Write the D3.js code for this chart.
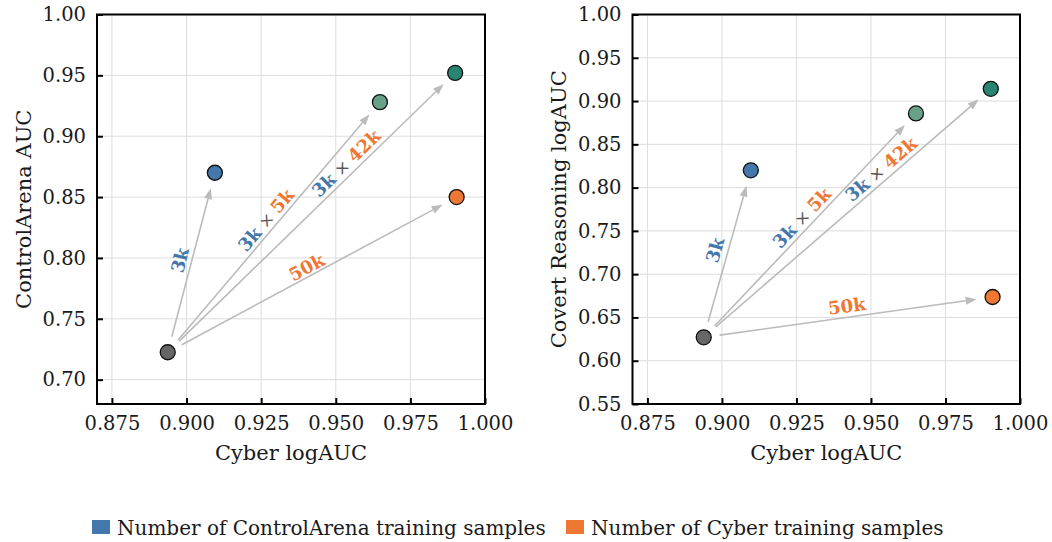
<!DOCTYPE html>
<html><head><meta charset="utf-8">
<script src="https://cdn.jsdelivr.net/npm/d3@7"></script>
<style>body{margin:0;background:#fff}svg{display:block}text{font-family:"DejaVu Serif",serif}</style>
</head><body><svg id="c" width="1052" height="542"></svg>
<script>
const xTicks = [0.875, 0.900, 0.925, 0.950, 0.975, 1.000];
const yTicksLeft = [0.70, 0.75, 0.80, 0.85, 0.90, 0.95, 1.00];
const yTicksRight = [0.55, 0.60, 0.65, 0.70, 0.75, 0.80, 0.85, 0.90, 0.95, 1.00];
const pointNames = ["base", "ca3k", "ca3k_cy5k", "ca3k_cy42k", "cy50k"];
const pointColors = ["#666666", "#4477AA", "#69A188", "#288572", "#EE7733"];
const cyberX = [0.8937, 0.9095, 0.9648, 0.9900, 0.9905];
const controlArenaY = [0.7225, 0.8700, 0.9280, 0.9520, 0.8500];
const covertX = [0.8939, 0.9097, 0.9651, 0.9902, 0.9908];
const covertY = [0.6270, 0.8200, 0.8857, 0.9141, 0.6736];
// arrow labels: parts [text, colour key]
const labelParts = [
  [["3k","ca"]],
  [["3k","ca"],[" × ","x"],["5k","cy"]],
  [["3k","ca"],[" × ","x"],["42k","cy"]],
  [["50k","cy"]]
];
const labelLeftX = [0.8978, 0.9266, 0.9535, 0.9403];
const labelLeftY = [0.7982, 0.8311, 0.8778, 0.7923];
const labelRightX = [0.8977, 0.9268, 0.9534, 0.9419];
const labelRightY = [0.7278, 0.7651, 0.8213, 0.6632];
const legendLabels = ["Number of ControlArena training samples", "Number of Cyber training samples"];
const legendColors = ["#4477AA", "#EE7733"];
const partColor = {ca:"#4477AA", cy:"#EE7733", x:"#555555"};

const svg = d3.select("#c");

function panel(cfg){
  const g = svg.append("g");
  const x = d3.scaleLinear().domain([0.87, 1.0]).range([cfg.x0, cfg.x1]);
  const y = d3.scaleLinear().domain(cfg.ydom).range([cfg.y1, cfg.y0]);
  // grid
  g.append("g").selectAll("line").data(xTicks).join("line")
    .attr("x1", d=>x(d)).attr("x2", d=>x(d)).attr("y1", cfg.y0).attr("y2", cfg.y1)
    .attr("stroke", "#dddddd").attr("stroke-width", 1);
  g.append("g").selectAll("line").data(cfg.yticks).join("line")
    .attr("y1", d=>y(d)).attr("y2", d=>y(d)).attr("x1", cfg.x0).attr("x2", cfg.x1)
    .attr("stroke", "#dddddd").attr("stroke-width", 1);
  // axes (inward ticks)
  const xa = g.append("g").attr("transform", `translate(0,${cfg.y1})`)
    .call(d3.axisBottom(x).tickValues(xTicks).tickFormat(d3.format(".3f")).tickSizeInner(-6).tickSizeOuter(0).tickPadding(12));
  const ya = g.append("g").attr("transform", `translate(${cfg.x0},0)`)
    .call(d3.axisLeft(y).tickValues(cfg.yticks).tickFormat(d3.format(".2f")).tickSizeInner(-6).tickSizeOuter(0).tickPadding(11));
  [xa, ya].forEach(a=>{
    a.select(".domain").remove();
    a.selectAll(".tick line").attr("stroke", "#000").attr("stroke-width", 2);
    a.selectAll(".tick text").attr("font-family", "DejaVu Serif").attr("font-size", 19.5).attr("fill", "#1a1a1a");
  });
  // arrows
  const px = cfg.px.map(v=>x(v)), py = cfg.py.map(v=>y(v));
  const shrink = 16, headL = 11, headW = 4;
  const ag = g.append("g");
  for (let i=1;i<pointNames.length;i++){
    const dx = px[i]-px[0], dy = py[i]-py[0], L = Math.hypot(dx,dy);
    const ux = dx/L, uy = dy/L;
    const sx = px[0]+ux*shrink, sy = py[0]+uy*shrink;
    const ex = px[i]-ux*shrink, ey = py[i]-uy*shrink;
    const bx = ex-ux*headL, by = ey-uy*headL;
    ag.append("line").attr("x1", sx).attr("y1", sy).attr("x2", bx).attr("y2", by)
      .attr("stroke", "#bbbbbb").attr("stroke-width", 1.6);
    ag.append("path").attr("d", `M${ex},${ey}L${bx-uy*headW},${by+ux*headW}L${bx+uy*headW},${by-ux*headW}Z`)
      .attr("fill", "#bbbbbb");
    // label
    const li = i-1;
    const ang = Math.atan2(dy, dx)*180/Math.PI;
    const lx = x(cfg.lx[li]), ly = y(cfg.ly[li]);
    const t = ag.append("text").attr("transform", `translate(${lx},${ly}) rotate(${ang})`)
      .attr("text-anchor", "middle").attr("dy", "0.35em")
      .attr("font-size", 18).attr("font-weight", "bold");
    labelParts[li].forEach(p=>{
      t.append("tspan").text(p[0]).attr("fill", partColor[p[1]])
        .attr("font-weight", p[1]==="x" ? "normal" : "bold")
        .attr("font-size", p[1]==="x" ? 17 : 18)
        .attr("xml:space", "preserve");
    });
  }
  // points
  g.append("g").selectAll("circle").data(pointNames).join("circle")
    .attr("cx", (d,i)=>px[i]).attr("cy", (d,i)=>py[i]).attr("r", 7.5)
    .attr("fill", (d,i)=>pointColors[i]).attr("stroke", "#111").attr("stroke-width", 1.3);
  // frame
  g.append("rect").attr("x", cfg.x0).attr("y", cfg.y0).attr("width", cfg.x1-cfg.x0).attr("height", cfg.y1-cfg.y0)
    .attr("fill", "none").attr("stroke", "#000").attr("stroke-width", 2);
  // axis labels
  g.append("text").attr("x", (cfg.x0+cfg.x1)/2).attr("y", 460).attr("text-anchor", "middle")
    .attr("font-size", 21).attr("fill", "#1a1a1a").text("Cyber logAUC");
  g.append("text").attr("transform", `translate(${cfg.ylabX},${(cfg.y0+cfg.y1)/2}) rotate(-90)`)
    .attr("text-anchor", "middle").attr("font-size", 21).attr("fill", "#1a1a1a").text(cfg.ylabel);
}

panel({id:"L", x0:97, x1:485, y0:14.5, y1:404, ydom:[0.68,1.0], yticks:yTicksLeft,
  px:cyberX, py:controlArenaY, lx:labelLeftX, ly:labelLeftY, ylabel:"ControlArena AUC", ylabX:31});
panel({id:"R", x0:632.5, x1:1020, y0:14.5, y1:404, ydom:[0.55,1.0], yticks:yTicksRight,
  px:covertX, py:covertY, lx:labelRightX, ly:labelRightY, ylabel:"Covert Reasoning logAUC", ylabX:566});

// legend
const lg = svg.append("g");
const lx0 = [92, 566];
legendLabels.forEach((s,i)=>{
  lg.append("rect").attr("x", lx0[i]).attr("y", 520).attr("width", 18).attr("height", 14).attr("fill", legendColors[i]);
  lg.append("text").attr("x", lx0[i]+25).attr("y", 535).attr("font-size", 20).attr("fill", "#1a1a1a").text(s);
});
</script></body></html>
